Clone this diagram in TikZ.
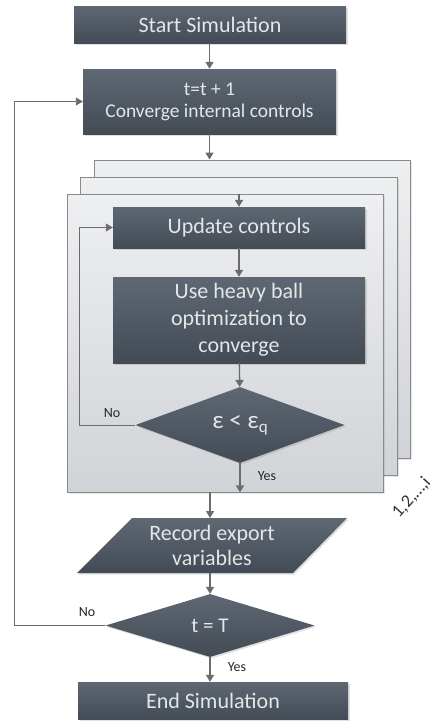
\documentclass[tikz,border=0pt]{standalone}
\usepackage{fontspec}
\setmainfont{Carlito}
\usetikzlibrary{arrows.meta,shapes.geometric,shadows}
\definecolor{boxtop}{HTML}{5E6873}
\definecolor{boxbot}{HTML}{434B55}
\definecolor{boxtxt}{HTML}{E4E6E8}
\definecolor{linec}{HTML}{6B6B6B}
\definecolor{paneltop}{HTML}{EEEFF1}
\definecolor{panelbot}{HTML}{D0D3D7}
\definecolor{panelborder}{HTML}{8A8A8A}
\begin{document}
\begin{tikzpicture}[x=1pt,y=-1pt,
 boxfill/.style={top color=boxtop, bottom color=boxbot, draw=none,
   drop shadow={opacity=0.25, shadow xshift=1.5pt, shadow yshift=-1.5pt}},
 proc/.style={rectangle, boxfill, text=boxtxt,
   font=\fontsize{22}{26}\selectfont, align=center, inner sep=0pt},
 dec/.style={diamond, boxfill, text=boxtxt, inner sep=0pt,
   font=\fontsize{22}{26}\selectfont, align=center},
 flow/.style={draw=linec, line width=1.4pt, -{Triangle[width=8pt,length=7pt]}},
 loopline/.style={draw=linec, line width=0.9pt, -{Triangle[width=8pt,length=7pt]}},
 panel/.style={rectangle, draw=panelborder, line width=0.9pt, top color=paneltop,
   bottom color=panelbot, inner sep=0pt,
   drop shadow={opacity=0.2, shadow xshift=1.5pt, shadow yshift=-1.5pt}},
 lbl/.style={font=\fontsize{14}{16}\selectfont, text=black!85, inner sep=0pt}
]
\useasboundingbox (0,0) rectangle (439,721);

% stacked panels
\node[panel, minimum width=316pt, minimum height=298pt] (back) at (252,309) {};
\node[panel, minimum width=317pt, minimum height=298pt] (mid) at (238.5,326) {};
\node[panel, minimum width=316pt, minimum height=298pt] (front) at (225,343) {};

% boxes
\node[proc, minimum width=272pt, minimum height=37pt] (start) at (210,24.5) {Start Simulation};
\node[proc, minimum width=253pt, minimum height=65pt, font=\fontsize{19.5}{22}\selectfont] (inc) at (209.5,101.5) {t=t + 1\\Converge internal controls};
\node[proc, minimum width=252pt, minimum height=41pt] (upd) at (239,227.5) {Update controls};
\node[proc, minimum width=252pt, minimum height=86pt, font=\fontsize{22}{27}\selectfont] (heavy) at (239,320) {Use heavy ball\\optimization to\\converge};
\node[dec, minimum width=209pt, minimum height=76pt, font=\fontsize{25}{28}\selectfont] (eps) at (240,425) {ε < ε\raisebox{-0.35ex}{\fontsize{17}{18}\selectfont q}};

% parallelogram
\coordinate (rectop) at (210,518);
\coordinate (recbot) at (210,573);
\path[boxfill] (132,518) -- (347,518) -- (293,573) -- (77,573) -- cycle;
\node[text=boxtxt, font=\fontsize{22}{25}\selectfont, align=center, inner sep=0pt] (rec) at (212,545.5) {Record export\\variables};

\node[dec, minimum width=209pt, minimum height=63pt, font=\fontsize{21}{24}\selectfont] (tT) at (210,625.5) {t = T};
\node[proc, minimum width=270pt, minimum height=37pt] (end) at (213,700.5) {End Simulation};

% helper coordinates for loop lines
\coordinate (l1) at (79,0);
\coordinate (l2) at (14,0);

% connectors
\draw[flow] (start.south -| inc.south) -- (inc.north);
\draw[flow] (inc.south) -- (inc.south |- back.north);
\draw[flow] (front.north -| upd.north) -- (upd.north);
\draw[flow] (upd) -- (heavy);
\draw[flow] (heavy) -- (eps);
\draw[loopline] (eps.west) -- (eps.west -| l1) |- (upd.west);
\draw[flow] (eps.south) -- (eps.south |- front.south);
\draw[flow] (front.south -| rectop) -- (rectop);
\draw[flow] (recbot) -- (tT.north);
\draw[loopline] (tT.west) -- (tT.west -| l2) |- (inc.west);
\draw[flow] (tT.south) -- (tT.south |- end.north);

% labels
\node[lbl] (no1) at (112,413) {No};
\node[lbl] (yes1) at (267,476) {Yes};
\node[lbl] (no2) at (87,612) {No};
\node[lbl] (yes2) at (237,667) {Yes};
\node[rotate=48, anchor=base west, font=\fontsize{18}{20}\selectfont, text=black!80, inner sep=0pt] (idx) at (399,519) {1,2,…,i};
\end{tikzpicture}
\end{document}
